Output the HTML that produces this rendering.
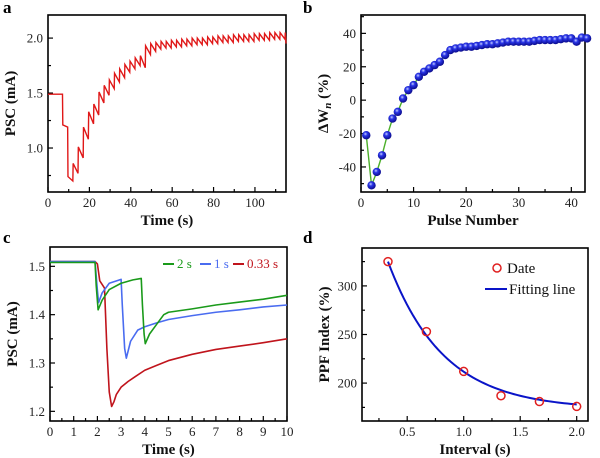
<!DOCTYPE html>
<html><head><meta charset="utf-8">
<style>
body{margin:0;background:#fff;}
svg{display:block;}
svg text{font-family:"Liberation Serif","DejaVu Serif",serif;}
.tl{font-size:13px;fill:#222;}
.at{font-size:15px;font-weight:bold;fill:#111;}
.pl{font-size:17px;font-weight:bold;fill:#000;}
</style></head><body>
<svg id="fig" width="600" height="458" viewBox="0 0 600 458" xmlns="http://www.w3.org/2000/svg" font-family="Liberation Serif, serif"></svg>
<script>
// ---------- Panel a data ----------
const aPulseTimes = [7,9.5,12,14.5,17,19.5,22,24.5,27,29.5,32,34.5,37,39.5,42,44.5,47,49.5,52,54.5,57,59.5,62,64.5,67,69.5,72,74.5,77,79.5,82,84.5,87,89.5,92,94.5,97,99.5,102,104.5,107,109.5,112,114.5];
const aPeaks = [1.21,0.74,0.86,1.01,1.19,1.33,1.40,1.51,1.57,1.62,1.68,1.72,1.76,1.79,1.82,1.84,1.93,1.95,1.96,1.97,1.97,1.98,1.98,1.99,1.99,2.00,2.00,2.00,2.01,2.01,2.02,2.02,2.02,2.03,2.03,2.03,2.03,2.04,2.04,2.04,2.05,2.05,2.05,2.05];
const aTroughs = [1.19,0.70,0.77,0.91,1.08,1.22,1.30,1.41,1.48,1.54,1.60,1.64,1.69,1.72,1.75,1.73,1.85,1.88,1.90,1.91,1.91,1.92,1.92,1.93,1.93,1.94,1.94,1.94,1.95,1.95,1.96,1.96,1.96,1.97,1.97,1.97,1.97,1.98,1.98,1.98,1.99,1.99,1.99,1.95];
const aBaseline = 1.49;
// ---------- Panel b data ----------
const bPulse = [1,2,3,4,5,6,7,8,9,10,11,12,13,14,15,16,17,18,19,20,21,22,23,24,25,26,27,28,29,30,31,32,33,34,35,36,37,38,39,40,41,42,43];
const bDW = [-21,-51,-43,-33,-21,-11,-7,1,6,9,14,17,19,21,23,27,30,31,31.5,32,32,32.5,33,33.5,33.5,34,34.5,35,35,35,35,35,35.5,36,36,36,36,36.5,37,37,35,37.5,37];
// ---------- Panel c data ----------
const cRedT = [0,1.9,2.0,2.1,2.3,2.4,2.5,2.6,2.7,2.8,3.0,3.3,3.6,4,4.5,5,6,7,8,9,10];
const cRedV = [1.51,1.51,1.505,1.47,1.455,1.33,1.24,1.21,1.22,1.235,1.25,1.262,1.272,1.285,1.295,1.305,1.318,1.328,1.335,1.342,1.35];
const cBlueT = [0,1.9,2.0,2.05,2.2,2.5,3.0,3.05,3.15,3.22,3.4,3.7,4.0,4.5,5,6,7,8,9,10];
const cBlueV = [1.51,1.51,1.45,1.425,1.445,1.465,1.473,1.42,1.33,1.31,1.345,1.368,1.375,1.383,1.39,1.398,1.405,1.41,1.416,1.42];
const cGreenT = [0,1.9,1.95,2.03,2.2,2.5,3.0,3.5,3.85,3.9,3.97,4.02,4.2,4.5,4.8,5,6,7,8,9,10];
const cGreenV = [1.508,1.508,1.46,1.41,1.43,1.452,1.465,1.472,1.475,1.42,1.36,1.34,1.36,1.38,1.40,1.405,1.412,1.42,1.426,1.432,1.44];
// ---------- Panel d data ----------
const dInterval = [0.33,0.67,1.0,1.33,1.67,2.0];
const dPPF = [325,253,212,187,181,176];
const dFitY0 = 173, dFitA = 298, dFitTau = 0.49;

const NS = "http://www.w3.org/2000/svg";
const svg = document.getElementById('fig');
function mk(tag, attrs, parent){
  const e = document.createElementNS(NS, tag);
  for (const k in attrs) e.setAttribute(k, attrs[k]);
  (parent||svg).appendChild(e);
  return e;
}
function scale(d0,d1,r0,r1){return v => r0 + (v-d0)/(d1-d0)*(r1-r0);}

function axes(g, box, xd, yd, xMaj, xMin, yMaj, yMin, xFmt, yFmt, xTitle, yTitle, name){
  const X = scale(xd[0],xd[1],box.x0,box.x1), Y = scale(yd[0],yd[1],box.y1,box.y0);
  const frame = mk('rect',{x:box.x0,y:box.y0,width:box.x1-box.x0,height:box.y1-box.y0,fill:'none',stroke:'#000','stroke-width':1.6},g);
  
  
  const xa = mk('g',{},g);
  
  
  const eps=1e-9;
  for(let v=Math.ceil(xd[0]/xMin-eps)*xMin; v<=xd[1]+eps; v+=xMin){
    const maj = Math.abs(v/xMaj-Math.round(v/xMaj))<1e-6;
    const px=X(v);
    mk('line',{x1:px,x2:px,y1:box.y1,y2:box.y1-(maj?5:3),stroke:'#000','stroke-width':1.2},xa);
    if(maj){
      const t=mk('text',{x:px,y:box.y1+15,'text-anchor':'middle',class:'tl'},xa);
      t.textContent=xFmt(v);
      
      
    }
  }
  const ya = mk('g',{},g);
  
  
  for(let v=Math.ceil(yd[0]/yMin-eps)*yMin; v<=yd[1]+eps; v+=yMin){
    const maj = Math.abs(v/yMaj-Math.round(v/yMaj))<1e-6;
    const py=Y(v);
    mk('line',{x1:box.x0,x2:box.x0+(maj?5:3),y1:py,y2:py,stroke:'#000','stroke-width':1.2},ya);
    if(maj){
      const t=mk('text',{x:box.x0-5,y:py+4.5,'text-anchor':'end',class:'tl'},ya);
      t.textContent=yFmt(v);
      
      
    }
  }
  const xt=mk('text',{x:(box.x0+box.x1)/2,y:box.y1+33,'text-anchor':'middle',class:'at'},g);
  xt.textContent=xTitle;
  
  
  const yt=mk('text',{x:0,y:0,'text-anchor':'middle',class:'at',transform:`translate(${box.x0-33},${(box.y0+box.y1)/2}) rotate(-90)`},g);
  if (typeof yTitle==='string') yt.textContent=yTitle; else yTitle(yt);
  
  
  return {X,Y};
}
function letter(txt,x,y){
  const t=mk('text',{x:x,y:y,class:'pl'});
  t.textContent=txt;
  
  
}

// ===== Panel a =====
const ga = mk('g',{});


letter('a',3,13);
const A = axes(ga,{x0:48,x1:286,y0:15,y1:192},[0,115],[0.6,2.21],20,10,0.5,0.25,v=>Math.round(v),v=>v.toFixed(1),'Time (s)','PSC (mA)','panel-a');
let pa = `M${A.X(0)},${A.Y(aBaseline)}`;
let prev = aBaseline;
for(let i=0;i<aPulseTimes.length;i++){
  const t=aPulseTimes[i];
  pa += ` L${A.X(t)},${A.Y(prev)} L${A.X(t+0.15)},${A.Y(aPeaks[i])}`;
  const tn = i+1<aPulseTimes.length ? aPulseTimes[i+1] : 115;
  pa += ` L${A.X(Math.min(tn,115))},${A.Y(aTroughs[i])}`;
  prev = aTroughs[i];
}
const la = mk('path',{d:pa,fill:'none',stroke:'#e01818','stroke-width':1.4},ga);



// ===== Panel b =====
const gb = mk('g',{});


letter('b',303,13);
const B = axes(gb,{x0:361,x1:585,y0:15,y1:192},[0,42.6],[-55,51],10,5,20,10,v=>Math.round(v),v=>Math.round(v),'Pulse Number',
  t=>{t.innerHTML='ΔW<tspan font-style="italic" font-size="11" dy="3">n</tspan><tspan dy="-3"> (%)</tspan>';},'panel-b');
const lb = mk('polyline',{points:bPulse.map((p,i)=>B.X(p)+','+B.Y(bDW[i])).join(' '),fill:'none',stroke:'#4caf2a','stroke-width':1.4},gb);


const defs = mk('defs',{});
const rg = mk('radialGradient',{id:'ball',cx:'0.4',cy:'0.35',r:'0.65'},defs);
mk('stop',{offset:'0','stop-color':'#c8d0ff'},rg);
mk('stop',{offset:'0.35','stop-color':'#2a36e8'},rg);
mk('stop',{offset:'1','stop-color':'#0a0a8a'},rg);
bPulse.forEach((p,i)=>{
  const c=mk('circle',{cx:B.X(p),cy:B.Y(bDW[i]),r:4.2,fill:'url(#ball)'},gb);
  
  
});

// ===== Panel c =====
const gc = mk('g',{});


letter('c',3,243);
const C = axes(gc,{x0:50,x1:287,y0:247,y1:421},[0,10],[1.18,1.54],1,0.5,0.1,0.05,v=>Math.round(v),v=>v.toFixed(1),'Time (s)','PSC (mA)','panel-c');
[[cRedT,cRedV,'#c0141c','series-0.33s'],[cBlueT,cBlueV,'#4a6cf0','series-1s'],[cGreenT,cGreenV,'#1a9a1a','series-2s']].forEach(s=>{
  const l=mk('polyline',{points:s[0].map((t,i)=>C.X(t)+','+C.Y(s[1][i])).join(' '),fill:'none',stroke:s[2],'stroke-width':1.6,'stroke-linejoin':'round'},gc);
  
  
});
[[163,'2 s','#1a9a1a'],[200,'1 s','#4a6cf0'],[233,'0.33 s','#c0141c']].forEach(e=>{
  const g=mk('g',{},gc);
  
  
  mk('line',{x1:e[0],x2:e[0]+11,y1:264,y2:264,stroke:e[2],'stroke-width':2},g);
  const t=mk('text',{x:e[0]+14,y:268,class:'tl',style:'fill:'+e[2]},g);
  t.textContent=e[1];
});

// ===== Panel d =====
const gd = mk('g',{});


letter('d',303,243);
const D = axes(gd,{x0:362,x1:588,y0:248,y1:421},[0.1,2.1],[161,339],0.5,0.25,50,25,v=>v.toFixed(1),v=>Math.round(v),'Interval (s)','PPF Index (%)','panel-d');
let fp='';
for(let k=0;k<=60;k++){
  const x=dInterval[0]+(dInterval[dInterval.length-1]-dInterval[0])*k/60;
  const y=dFitY0+dFitA*Math.exp(-x/dFitTau);
  fp+=(k?' L':'M')+D.X(x)+','+D.Y(y);
}
const ld=mk('path',{d:fp,fill:'none',stroke:'#0a14c8','stroke-width':2},gd);


dInterval.forEach((x,i)=>{
  const c=mk('circle',{cx:D.X(x),cy:D.Y(dPPF[i]),r:4,fill:'none',stroke:'#e02020','stroke-width':1.5},gd);
  
  
});
const lg1=mk('g',{},gd);


mk('circle',{cx:497,cy:268,r:4,fill:'none',stroke:'#e02020','stroke-width':1.5},lg1);
const t1=mk('text',{x:507,y:273,style:'font-size:15px;fill:#111'},lg1); t1.textContent='Date';
const lg2=mk('g',{},gd);


mk('line',{x1:485,x2:507,y1:289,y2:289,stroke:'#0a14c8','stroke-width':2},lg2);
const t2=mk('text',{x:509,y:294,style:'font-size:15px;fill:#111'},lg2); t2.textContent='Fitting line';
</script>
</body></html>
